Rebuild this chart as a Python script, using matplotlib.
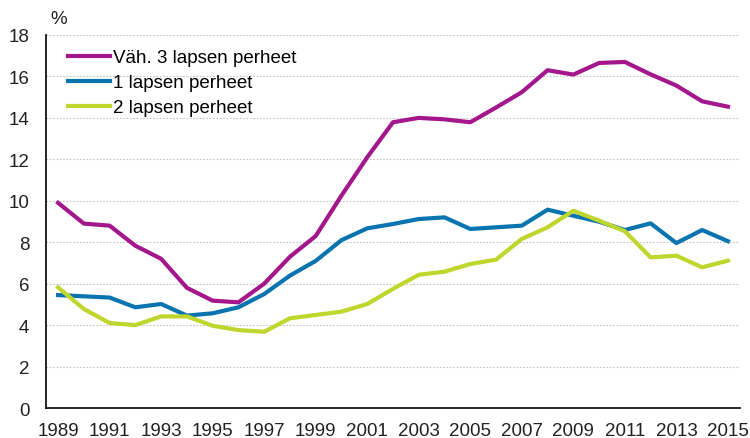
import matplotlib
matplotlib.use("Agg")
from matplotlib import pyplot as plt

# data
years = list(range(1989, 2016))

vah3 = [9.9, 8.9, 8.8, 7.83, 7.2, 5.8, 5.18, 5.1, 6.0, 7.3, 8.3, 10.25, 12.1,
        13.79, 14.0, 13.93, 13.79, 14.5, 15.24, 16.3, 16.09, 16.65, 16.7,
        16.1, 15.56, 14.8, 14.54]
lapsi1 = [5.45, 5.39, 5.33, 4.86, 5.02, 4.46, 4.57, 4.86, 5.5, 6.39, 7.1, 8.1,
          8.67, 8.88, 9.12, 9.2, 8.64, 8.72, 8.8, 9.57, 9.28, 8.99, 8.59,
          8.91, 7.96, 8.59, 8.05]
lapsi2 = [5.82, 4.78, 4.1, 4.0, 4.42, 4.42, 3.97, 3.76, 3.68, 4.33, 4.49, 4.65,
          5.02, 5.75, 6.43, 6.58, 6.95, 7.16, 8.16, 8.72, 9.52, 9.04, 8.53,
          7.27, 7.35, 6.79, 7.11]

labels = ["Väh. 3 lapsen perheet", "1 lapsen perheet", "2 lapsen perheet"]
colors = ["#A4168B", "#0A74B0", "#BFD62C"]
yticks = list(range(0, 19, 2))
xticks = list(range(1989, 2016, 2))

plt.rcParams["font.family"] = ["Liberation Sans", "DejaVu Sans"]

fig = plt.figure(figsize=(7.5, 4.39), dpi=100)
ax = fig.add_axes([0.0613, 0.0683, 0.9254, 0.8497])

for series, label, color in zip([vah3, lapsi1, lapsi2], labels, colors):
    ax.plot(years, series, color=color, lw=3, label=label, solid_joinstyle="round")

ax.set_xlim(1988.53, 2015.47)
ax.set_ylim(0, 18)
ax.set_yticks(yticks)
ax.set_xticks(xticks)
ax.tick_params(axis="both", labelsize=13.5, length=0, colors="#222222")
ax.tick_params(axis="x", pad=10)
ax.tick_params(axis="y", pad=12)

ax.grid(axis="y", color="#c4c4c4", linestyle=(0, (1.5, 1.5)), lw=0.8)
ax.set_axisbelow(True)
for side in ["top", "right"]:
    ax.spines[side].set_visible(False)
ax.spines["left"].set_linewidth(1.2)
ax.spines["bottom"].set_linewidth(1.2)

fig.text(0.067, 0.945, "%", fontsize=13.5, color="#222222")

leg = ax.legend(loc="upper left", frameon=False, fontsize=13.5, handlelength=2.2,
                handletextpad=0.2, labelspacing=0.42, borderaxespad=0.35,
                bbox_to_anchor=(0.012, 1.0))

fig.savefig("out.png", dpi=100)
